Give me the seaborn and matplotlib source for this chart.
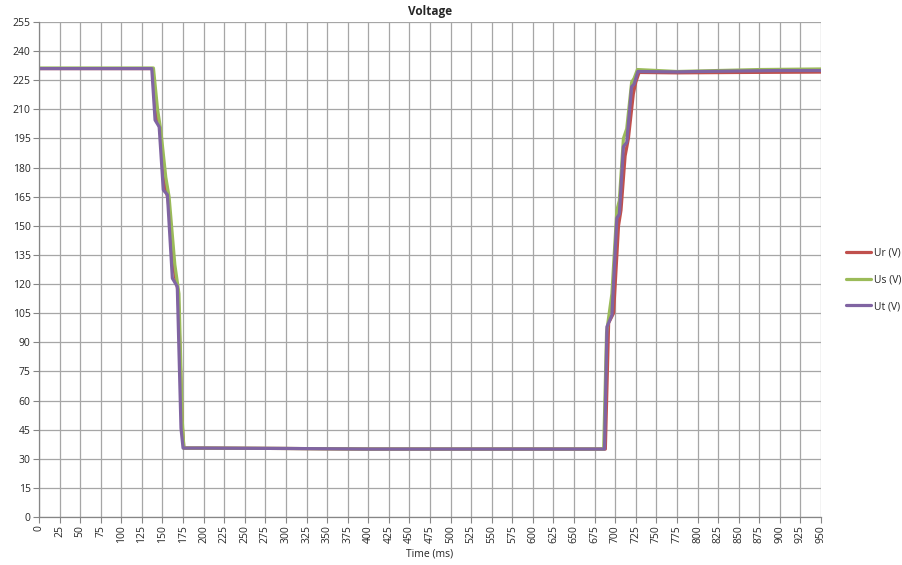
import matplotlib
matplotlib.use("Agg")
import matplotlib.pyplot as plt
import seaborn as sns
import pandas as pd

# Ur (V) - red phase
ur_time = [0, 138, 143, 147, 153, 157, 164, 169, 174, 176, 200, 300, 400, 500, 600,
           688, 692, 698, 704, 707, 712, 716, 722, 725, 729, 775, 850, 950]
ur_volt = [231, 231, 206, 200, 171, 163, 128, 116, 47, 35.5, 35.5, 35.3, 35, 35, 35,
           35, 100, 105, 150, 158, 186, 195, 218, 224, 229, 228.8, 229, 229.2]

# Us (V) - green phase
us_time = [0, 139, 144, 148, 154, 158, 165, 170, 174, 176, 200, 300, 400, 500, 600,
           686, 689.5, 696, 702, 705, 710, 714, 720, 723, 727, 775, 875, 950]
us_volt = [231.3, 231.3, 210, 199, 175, 165, 130, 115, 50, 35.5, 35.5, 35.3, 35, 35, 35,
           35, 95, 115, 158, 163, 195, 200, 224, 226, 230.5, 229.5, 230.5, 230.8]

# Ut (V) - purple phase
ut_time = [0, 137, 141, 146, 151, 156, 162, 168, 172.5, 175, 200, 300, 400, 500, 600,
           687, 690, 696, 702, 705, 710, 714, 720, 723, 727.5, 775, 800, 900, 950]
ut_volt = [231, 231, 204.5, 201, 168.5, 166, 123, 118.7, 45.8, 35.5, 35.5, 35.3, 35, 35, 35,
           35, 98, 104, 154, 156, 190.8, 193, 221.7, 223, 229.5, 229.3, 229.5, 230, 230]

x_ticks = list(range(0, 951, 25))
y_ticks = list(range(0, 256, 15))

sns.set_style("white")
plt.rcParams['font.family'] = ['Open Sans', 'DejaVu Sans']

fig = plt.figure(figsize=(9.03, 5.65), dpi=100)
ax = fig.add_axes([39 / 903, 48 / 565, 782 / 903, 495 / 565])

series = [
    ("Ur (V)", ur_time, ur_volt, "#C0504D"),
    ("Us (V)", us_time, us_volt, "#9BBB59"),
    ("Ut (V)", ut_time, ut_volt, "#8064A2"),
]
for name, t, v, col in series:
    df = pd.DataFrame({"t": t, "v": v})
    sns.lineplot(data=df, x="t", y="v", color=col, linewidth=2.3, label=name,
                 ax=ax, sort=False)

ax.set_xlim(0, 950)
ax.set_ylim(0, 255)
ax.set_xticks(x_ticks)
ax.set_yticks(y_ticks)
ax.set_xticklabels([str(x) for x in x_ticks], rotation=90, fontsize=7.5)
ax.set_yticklabels([str(y) for y in y_ticks], fontsize=7.5)
ax.grid(True, color="#a6a6a6", linewidth=0.9)
ax.set_axisbelow(True)
for s in ["top", "right"]:
    ax.spines[s].set_visible(False)
for s in ["left", "bottom"]:
    ax.spines[s].set_color("#868686")
    ax.spines[s].set_linewidth(0.9)
ax.tick_params(axis="both", length=4, color="#868686", pad=2, direction="out",
               bottom=True, left=True)

ax.set_title("Voltage", fontsize=8.5, fontweight="bold", pad=5)
ax.set_xlabel("Time (ms)", fontsize=7.5, labelpad=4)
ax.set_ylabel("")

ax.legend(loc="center left", bbox_to_anchor=(837 / 903, 1 - 280 / 565),
          bbox_transform=fig.transFigure, frameon=False, fontsize=7.5,
          handlelength=2.4, labelspacing=1.5, handletextpad=0.3)

plt.savefig("out.png", dpi=100)
plt.close()
